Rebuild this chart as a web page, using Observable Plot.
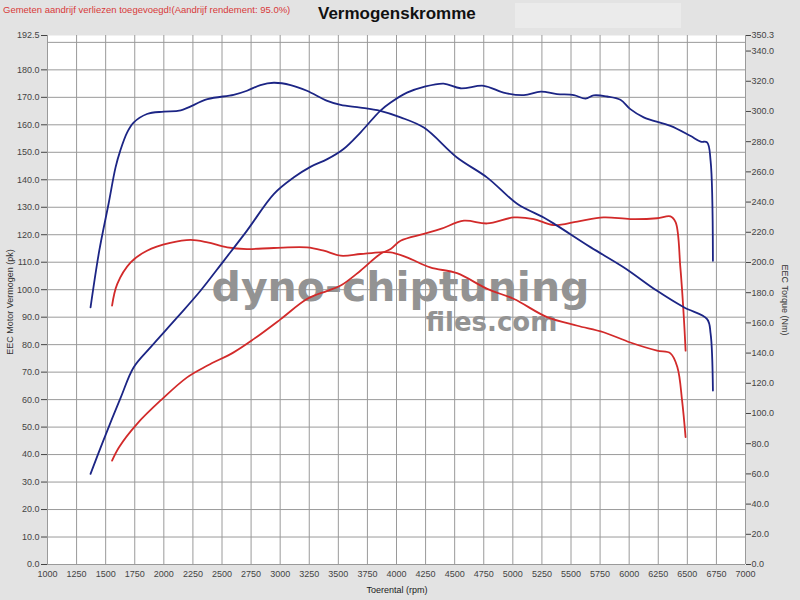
<!DOCTYPE html>
<html><head><meta charset="utf-8">
<script src="https://cdn.jsdelivr.net/npm/d3@7"></script>
<script src="https://cdn.jsdelivr.net/npm/@observablehq/plot@0.6"></script>
<style>
body{margin:0;background:#e3e3e3;font-family:Arial,"Liberation Sans",sans-serif;}
#wrap{position:relative;width:800px;height:600px;background:#e3e3e3;overflow:hidden}
#chart{position:absolute;left:0;top:0}
.ov{position:absolute;white-space:nowrap;font-family:Arial,"Liberation Sans",sans-serif}
#band{position:absolute;left:515px;top:3px;width:166px;height:25px;background:#ebebeb}
</style></head><body>
<div id="wrap">
<div id="band"></div>
<div id="chart"></div>
<div class="ov" style="left:3px;top:4px;font-size:9.5px;color:#d83a3a">Gemeten aandrijf verliezen toegevoegd!(Aandrijf rendement: 95.0%)</div>
<div class="ov" style="left:318px;top:4px;font-size:17px;font-weight:bold;color:#111">Vermogenskromme</div>
<div class="ov" style="left:10px;top:302px;font-size:9px;color:#333;transform:translate(-50%,-50%) rotate(-90deg)">EEC Motor Vermogen (pk)</div>
<div class="ov" style="left:785px;top:300px;font-size:9px;color:#333;transform:translate(-50%,-50%) rotate(90deg)">EEC Torque (Nm)</div>
<div class="ov" style="left:397px;top:590px;font-size:9px;color:#222;transform:translate(-50%,-50%)">Toerental (rpm)</div>
</div>
<script>
// ---- data ----
const tunedPowerRpm = [1370,1480,1630,1740,1885,2115,2315,2515,2715,2945,3115,3260,3405,3545,3690,3860,3950,4090,4235,4405,4550,4750,4920,5095,5240,5380,5525,5625,5695,5810,5925,6010,6125,6355,6525,6615,6670,6700,6720];
const tunedPowerPk  = [33.0,45.1,60.8,71.7,79.0,89.9,99.6,110.5,121.5,134.8,140.8,144.7,147.5,151.2,157.2,165.1,168.1,171.7,173.8,175.0,173.3,174.2,171.7,170.8,172.1,171.2,170.8,169.5,170.7,170.3,169.1,165.7,162.7,159.6,156.0,153.9,153.6,146.9,110.5];

const tunedTorqueRpm = [1370,1445,1525,1585,1625,1685,1740,1855,2000,2145,2375,2600,2715,2830,2945,3090,3230,3405,3520,3690,3860,4035,4235,4520,4780,5040,5265,5380,5670,5955,6240,6470,6670,6700,6720];
const tunedTorqueNm  = [170.3,207.8,238.9,263.0,273.9,286.1,292.6,298.3,299.9,300.8,308.1,311.0,313.7,317.5,319.0,317.5,313.7,307.0,304.3,302.6,300.4,296.1,289.3,269.5,256.2,238.7,229.8,224.4,210.0,196.7,181.2,170.3,162.5,152.9,115.2];

const stockPowerRpm = [1555,1615,1770,1970,2200,2375,2600,2775,3005,3230,3405,3520,3690,3860,3950,4035,4235,4380,4580,4780,5010,5180,5350,5555,5780,6010,6240,6355,6400,6440,6470,6485];
const stockPowerPk  = [37.8,42.7,51.2,59.6,68.1,72.4,77.2,82.1,89.3,96.6,99.6,101.5,106.9,113.0,114.8,117.8,120.3,122.1,125.1,124.1,126.3,125.7,123.5,124.8,126.3,125.7,126.0,126.7,124.5,108.1,89.9,77.8];

const stockTorqueRpm = [1555,1600,1715,1855,2055,2230,2375,2545,2715,2945,3230,3375,3520,3690,3860,3950,4090,4290,4520,4780,5010,5295,5555,5780,6010,6240,6355,6415,6455,6485];
const stockTorqueNm  = [171.4,185.8,200.0,207.8,212.9,214.9,213.3,210.0,208.9,209.6,210.0,207.8,204.5,205.6,206.7,206.7,203.4,196.7,192.9,182.5,175.8,163.8,158.1,153.8,147.0,141.6,139.8,130.5,108.5,84.3];

const xTicks = d3.range(1000, 7001, 250);
const leftTicks = [...d3.range(0, 181, 10), 192.5];
const rightTicksNm = [...d3.range(0, 341, 20), 350.3];
const gridYVals = d3.range(0, 191, 10);

const PK_MAX = 192.5, NM_MAX = 350.3;
const nmToPk = v => v * PK_MAX / NM_MAX;

const rows = (rpm, vals, f = v => v) => rpm.map((r, i) => ({rpm: r, v: f(vals[i])}));
const tunedPower = rows(tunedPowerRpm, tunedPowerPk);
const tunedTorque = rows(tunedTorqueRpm, tunedTorqueNm, nmToPk);
const stockPower = rows(stockPowerRpm, stockPowerPk);
const stockTorque = rows(stockTorqueRpm, stockTorqueNm, nmToPk);

const BLUE = "#1c2585", RED = "#d22a2a";
const lineOpts = (color) => ({x: "rpm", y: "v", stroke: color, strokeWidth: 1.8, curve: "catmull-rom"});

const chart = Plot.plot({
  width: 800, height: 600,
  marginLeft: 47, marginRight: 55, marginTop: 35, marginBottom: 36,
  style: {background: "transparent", fontFamily: "Arial, 'Liberation Sans', sans-serif", fontSize: "9px", color: "#444"},
  x: {domain: [1000, 7000]},
  y: {domain: [0, PK_MAX]},
  marks: [
    Plot.frame({fill: "white", stroke: null}),
    Plot.gridX(xTicks, {stroke: "#9a9a9a", strokeOpacity: 1}),
    Plot.gridY(gridYVals, {stroke: "#9a9a9a", strokeOpacity: 1}),
    Plot.text(["dyno-chiptuning"], {frameAnchor: "middle", dx: 4, dy: -12.5, fontSize: 41, fontWeight: "bold", fontFamily: "DejaVu Sans", fill: "#939393"}),
    Plot.text(["files.com"], {frameAnchor: "middle", dx: 95, dy: 23, fontSize: 26, fontWeight: "bold", fontFamily: "DejaVu Sans", fill: "#939393"}),
    Plot.line(stockPower, lineOpts(RED)),
    Plot.line(stockTorque, lineOpts(RED)),
    Plot.line(tunedPower, lineOpts(BLUE)),
    Plot.line(tunedTorque, lineOpts(BLUE)),
    Plot.axisX(xTicks, {tickSize: 0, tickPadding: 6, tickFormat: d => String(d), label: null}),
    Plot.axisY(leftTicks, {anchor: "left", tickSize: 6, tickPadding: 2, tickFormat: d => d.toFixed(1), label: null}),
    Plot.axisY(rightTicksNm.map(nmToPk), {anchor: "right", tickSize: 5, tickPadding: 1, tickFormat: d => (d * NM_MAX / PK_MAX).toFixed(1), label: null})
  ]
});
document.getElementById("chart").appendChild(chart);
</script>
</body></html>
